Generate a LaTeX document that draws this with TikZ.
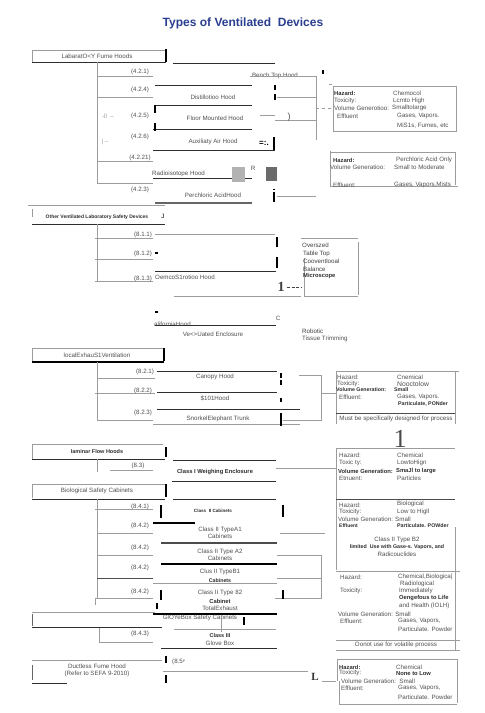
\documentclass[tikz,border=0pt]{standalone}
\usepackage{fontspec}
\setmainfont{Liberation Sans}
\newfontfamily\serifone{Liberation Serif}
\usepackage{tikz}
\usetikzlibrary{positioning}

\definecolor{txtgray}{HTML}{505050}
\definecolor{lngray}{HTML}{9C9C9C}
\definecolor{lndark}{HTML}{2E2E2E}
\definecolor{titleblue}{HTML}{2B3F91}

\tikzset{
  lbl/.style={inner sep=0pt, text=txtgray, font=\fontsize{6.2}{7}\selectfont},
  lbll/.style={lbl, anchor=west},
  bl/.style={lbl, text=lndark, font=\fontsize{5.8}{7}\selectfont\bfseries},
  bll/.style={bl, anchor=west},
  thin/.style={draw=lngray, line width=0.5pt},
  dark/.style={draw=lndark, line width=1pt},
  stub/.style={draw=black, line width=1.8pt},
}

\begin{document}
\begin{tikzpicture}[x=1pt, y=-1pt]
				\fill[white] (0,0) rectangle (485,713);
				\useasboundingbox (0,0) rectangle (485,713);

				\node[inner sep=0pt, text=titleblue, font=\fontsize{12}{14}\selectfont\bfseries] (title) at (243,23) {Types of Ventilated\ \ Devices};

				% laboratory fume hoods
				\node[lbl] (lfh) at (97,56) {LabaratO<Y Fume Hoods};
				\draw[thin] (32,50) -- (165,50);
				\draw[thin] (32,50) -- (32,62);
				\draw[dark] (32,62) -- (166,62);
				\draw[stub] (166,49) -- (166,62);
				\draw[dark] (173,63) -- (275,63);
				\draw[thin] (97,62) -- (97,183) -- (153,183);
				\draw[thin] (97,76) -- (153,76);
				\draw[thin] (97,97) -- (153,97);
				\draw[thin] (97,161) -- (153,161);
				\node[lbl] (s421) at (140,72) {(4.2.1)};
				\node[lbl] (s424) at (140,90) {(4.2.4)};
				\node[lbl] (s425) at (140,116) {(4.2.5)};
				\node[lbl] (s426) at (140,137) {(4.2.6)};
				\node[lbl] (s4221) at (140,158) {(4.2.21)};
				\node[lbl] (s423) at (140,190) {(4.2.3)};
				\node[lbl, text=lngray] (junk1) at (108,116) {-ll\ \ --};
				\node[lbl, text=lngray] (junk2) at (105,142) {|\ --};

				\node[lbl] (bench) at (275,76) {Bench Top Hood};
				\coordinate (bus1) at (316,76);
				\draw[thin] (250,76) -- (bus1) -- (316,140);
				\draw[stub] (323,70) -- (323,74);
				\draw[thin] (329,84) -- (332,84);
				\draw[dark] (155,85) -- (252,85);
				\node[lbl] (distil) at (213,97) {Distillotioo Hood};
				\draw[dark] (155,105) -- (252,105);
				\draw[stub] (155,105) -- (155,113);
				\draw[stub] (275,85) -- (275,90);
				\draw[stub] (275,94) -- (275,100);
				\draw[thin] (277,97) -- (316,97);
				\node[lbl] (floor) at (215,118) {Floor Mounted Hood};
				\draw[thin] (260,115) -- (275,115);
				\draw[thin] (275,120) -- (316,120);
				\node[lbl, font=\fontsize{9}{9}\selectfont] (paren) at (289,117) {)};
				\draw[dark] (153,129) -- (252,129);
				\draw[stub] (155,123) -- (155,131);
				\node[lbl] (aux) at (213,142) {Auxiliaty Air Hood};
				\draw[dark] (153,150) -- (275,150);
				\node[bl, text=black, font=\fontsize{8}{8}\selectfont\bfseries] (auxmark) at (264,143) {=:.};
				\draw[stub] (274,137) -- (274,150);
				\node[lbll] (radio) at (152,174) {Radioisotope Hood};
				\draw[dark] (153,178) -- (252,178);
				\fill[black!30] (232,167) rectangle (245,182);
				\fill[black!58] (266,167) rectangle (277,181);
				\node[lbl] (rmark) at (253,168) {R};
				\node[lbl] (perch) at (213,195) {Perchloric AcidHood};
				\draw[draw=black!60, line width=1.2pt] (155,203) -- (252,203);
				\draw[stub] (274,192) -- (274,202);
				\draw[stub] (274,189) -- (274,190);
				\draw[thin] (277,196) -- (316,196);
				\draw[thin] (28,205) -- (165,205);

				% hazard boxes for fume hoods
				\draw[thin] (333,86) rectangle (456,131);
				\coordinate (hz1) at (333,108);
				\draw[thin, dashed] (316,108) -- (hz1);
				\node[bll] (h1a) at (334,93) {Hazard:};
				\node[lbll] (h1b) at (393,93) {Chemocol};
				\node[lbll] (h1c) at (334,101) {Toxicity:};
				\node[lbll] (h1d) at (393,101) {Lcmto High};
				\node[lbll] (h1e) at (334,108) {Volume Generotioo:};
				\node[lbll] (h1f) at (392,108) {Smalltolarge};
				\node[lbll] (h1g) at (337,116) {Effluent};
				\node[lbll] (h1h) at (397,116) {Gases, Vapors.};
				\node[lbll] (h1i) at (397,126) {MiS1s, Fumes, etc};

				\draw[thin] (330,152) -- (455,152);
				\draw[thin] (330,151) -- (330,186);
				\draw[thin] (455,152) -- (455,185);
				\draw[thin] (330,186) -- (458,186);
				\node[bll] (h2a) at (333,160) {Hazard:};
				\node[lbll] (h2b) at (396,160) {Perchloric Acid Only};
				\node[lbll] (h2c) at (330,167) {Volume Generatioo:};
				\node[lbll] (h2d) at (394,167) {Small to Moderate};
				\node[lbll] (h2e) at (333,185) {Effluent:};
				\node[lbll] (h2f) at (394,185) {Gases, Vapors,Mists};

				% other ventilated devices
				\draw[thin] (32,209) -- (32,217);
				\node[bl, font=\fontsize{5}{6}\selectfont\bfseries] (ovlsd) at (97,217) {Other Ventilated Laboratory Safety Devices};
				\node[lbl, text=black] (jmark) at (163,216) {J};
				\draw[dark] (32,224) -- (165,224);
				\draw[thin] (97,224) -- (97,282);
				\draw[thin] (95,238) -- (153,238);
				\draw[thin] (95,259) -- (153,259);
				\draw[thin] (95,281) -- (153,281);
				\node[lbl] (s811) at (143,235) {(8.1.1)};
				\node[lbl] (s812) at (143,254) {(8.1.2)};
				\node[lbl] (s813) at (143,279) {(8.1.3)};
				\draw[thin] (155,234) -- (275,234);
				\draw[stub] (277,237) -- (277,247);
				\draw[stub] (277,257) -- (277,268);
				\draw[stub] (155,253) -- (158,253);
				\draw[dark] (155,271) -- (276,271);
				\node[lbll] (demo) at (155,277) {OemcoS1rotioo Hood};
				\node[inner sep=0pt, text=black!75, font=\serifone\fontsize{14}{14}\selectfont\bfseries] (onemark) at (281,287) {1};
				\coordinate (bal) at (301,287);
				\draw[draw=black!75, line width=0.9pt, dash pattern=on 3pt off 1.5pt] (287,287) -- (bal);
				\draw[thin] (174,296) -- (301,296);
				\draw[thin] (301,238) -- (358,238);
				\draw[thin] (358,242) -- (358,295);
				\draw[thin] (304,258) -- (304,296) -- (358,296);
				\node[lbll, text=black!75] (bal1) at (302,245) {Overszed};
				\node[lbll, text=black!75] (bal2) at (303,254) {Table Top};
				\node[lbll, text=black!75] (bal3) at (303,261) {Cooventlooal};
				\node[lbll, text=black!75] (bal4) at (303,269) {Balance};
				\node[bll] (bal5) at (303,276) {Microscope};
				\draw[stub] (155,312) -- (158,312);
				\node[lbl] (cmark) at (278,318) {C};
				\node[lbll] (calif) at (154,324) {aliforniaHood};
				\draw[dark] (155,325) -- (276,325);
				\node[lbl] (vent) at (213,334) {Ve<>Uated Enclosure};
				\node[lbll, text=black!75] (robo) at (302,331) {Robotic};
				\node[lbll] (tissue) at (302,339) {Tissue Trimming};

				% local exhaust ventilation
				\node[lbl] (lev) at (97,355) {localExhauS1Ventilation};
				\draw[thin] (32,348) -- (163,348);
				\draw[thin] (32,348) -- (32,362);
				\draw[stub] (164,348) -- (164,361);
				\draw[draw=black, line width=1.3pt] (32,362) -- (164,362);
				\draw[thin] (97,362) -- (97,420) -- (153,420);
				\draw[thin] (97,378) -- (155,378);
				\draw[thin] (95,393) -- (155,393);
				\node[lbl] (s821) at (145,372) {(8.2.1)};
				\node[lbl] (s822) at (143,391) {(8.2.2)};
				\node[lbl] (s823) at (143,413) {(8.2.3)};
				\draw[dark] (157,371) -- (277,371);
				\node[lbl] (canopy) at (215,377) {Canopy Hood};
				\draw[dark] (157,392) -- (277,392);
				\node[lbl] (slot) at (215,398) {\$101Hood};
				\draw[dark] (157,409) -- (300,409);
				\node[lbl] (snork) at (218,419) {SnorkelElephant Trunk};
				\draw[thin] (153,424) -- (300,424);
				\draw[stub] (281,373) -- (281,378);
				\draw[stub] (281,380) -- (281,385);
				\draw[stub] (281,398) -- (281,402);
				\draw[stub] (281,413) -- (281,426);
				\draw[thin] (299,375) -- (321,375) -- (321,420) -- (283,420);
				\coordinate (hz4) at (336,393);
				\draw[thin] (321,393) -- (hz4);
				\draw[thin] (336,371) -- (459,371);
				\draw[thin] (336,371) -- (336,424);
				\draw[thin] (455,371) -- (455,424);
				\draw[draw=black!70, line width=0.9pt] (336,413) -- (455,413);
				\node[lbll] (h4a) at (337,377) {Hazard:};
				\node[lbll] (h4b) at (397,377) {Cnemical};
				\node[lbll] (h4c) at (337,384) {Toxicity:};
				\node[lbll, font=\fontsize{6.8}{7}\selectfont] (h4d) at (397,384) {Nooctolow};
				\node[bll, font=\fontsize{5.3}{6}\selectfont\bfseries] (h4e) at (336,390) {Volume Generation:};
				\node[bll, font=\fontsize{5.3}{6}\selectfont\bfseries] (h4f) at (394,390) {Small};
				\node[lbll] (h4g) at (339,397) {Effluent:};
				\node[lbll] (h4h) at (397,397) {Gases, Vapors.};
				\node[bll, font=\fontsize{5.3}{6}\selectfont\bfseries] (h4i) at (398,404) {Particulate, PONder};
				\node[lbl] (h4j) at (396,419) {Must be specifically designed for process};
				\node[inner sep=0pt, text=black!70, font=\serifone\fontsize{26}{26}\selectfont] (bigone) at (400,439) {1};

				% laminar flow hoods
				\node[bl, font=\fontsize{5.5}{6}\selectfont\bfseries] (lam) at (97,452) {Iaminar Flow Hoods};
				\draw[thin] (32,444) -- (163,444);
				\draw[thin] (32,444) -- (32,459);
				\draw[stub] (166,447) -- (166,457);
				\draw[dark] (32,459) -- (165,459);
				\draw[thin] (97,459) -- (97,472);
				\draw[thin] (110,470) -- (153,470);
				\node[lbl] (s83) at (138,466) {(8.3)};
				\draw[dark] (173,460) -- (276,460);
				\node[bl] (weigh) at (215,472) {Class I Weighing Enclosure};
				\draw[dark] (172,481) -- (276,481);
				\coordinate (hz5) at (336,468);
				\draw[thin] (276,468) -- (hz5);

				% biological safety cabinets
				\node[lbl] (bsc) at (97,491) {Biological Safety Cabinets};
				\draw[thin] (32,484) -- (165,484);
				\draw[thin] (32,484) -- (32,498);
				\draw[stub] (166,484) -- (166,497);
				\draw[dark] (32,499) -- (165,499);
				\draw[dark] (173,499) -- (276,499);
				\draw[thin] (97,499) -- (97,598);
				\draw[thin] (95,598) -- (95,605);
				\draw[thin] (95,509) -- (153,509);
				\draw[thin] (97,533) -- (153,533);
				\draw[thin] (97,555) -- (153,555);
				\draw[draw=black!70, line width=0.7pt] (97,578) -- (153,578);
				\draw[thin] (95,598) -- (153,598);
				\node[lbl] (s841) at (140,507) {(8.4.1)};
				\node[lbl] (s842a) at (140,526) {(8.4.2)};
				\node[lbl] (s842b) at (140,548) {(8.4.2)};
				\node[lbl] (s842c) at (140,568) {(8.4.2)};
				\node[lbl] (s842d) at (140,592) {(8.4.2)};
				\draw[stub] (161,505) -- (161,518);
				\node[bl, font=\fontsize{4.6}{5}\selectfont\bfseries] (c2cab) at (213,511) {Class\ \ II Cabinets};
				\draw[stub] (283,505) -- (283,517);
				\draw[draw=black, line width=1.3pt] (153,523) -- (195,523);
				\node[lbl, align=center] (a1) at (220,533) {Class II TypeA1\\Cabinets};
				\draw[thin] (280,533) -- (325,533);
				\draw[draw=black!70, line width=1.2pt] (161,543) -- (277,543);
				\node[lbl, align=center] (a2) at (220,555) {Class II Type A2\\Cabinets};
				\draw[thin] (277,555) -- (321,555) -- (321,598) -- (275,598);
				\draw[draw=black, line width=1.5pt] (161,564) -- (277,564);
				\node[lbl] (b1) at (220,572) {Clus II TypeB1};
				\node[bl, font=\fontsize{5.3}{6}\selectfont\bfseries] (b1b) at (220,581) {Cabinets};
				\draw[thin] (277,578) -- (322,578);
				\draw[thin] (153,583) -- (277,583);
				\node[lbl] (b2) at (220,593) {Class II Type 82};
				\node[bl] (b2b) at (220,601) {Cabinet};
				\node[lbl] (b2c) at (220,608) {TotalExhaust};
				\draw[stub] (161,590) -- (161,600);
				\draw[stub] (283,590) -- (283,599);

				% biological and b2 hazard boxes
				\draw[thin] (336,448) -- (455,448);
				\draw[thin] (336,448) -- (336,570);
				\draw[draw=black!70, line width=0.9pt] (336,499) -- (455,499);
				\draw[thin] (455,527) -- (455,650);
				\draw[thin] (336,571) -- (460,571);
				\node[lbll] (h5a) at (339,455) {Hazard:};
				\node[lbll] (h5b) at (397,455) {Chemical};
				\node[lbll] (h5c) at (339,463) {Toxic ty:};
				\node[lbll] (h5d) at (397,463) {LowtoHign};
				\node[bll] (h5e) at (338,471) {Volume Generation:};
				\node[bll] (h5f) at (396,471) {SmaJl to large};
				\node[lbll] (h5g) at (339,478) {Etnuent:};
				\node[lbll] (h5h) at (397,478) {Particles};
				\node[lbll] (h6a) at (339,505) {Hazard:};
				\node[lbll] (h6b) at (397,504) {Biological};
				\node[lbll] (h6c) at (339,512) {Toxicity:};
				\node[lbll] (h6d) at (397,512) {Low to Higll};
				\node[lbll] (h6e) at (338,519) {Volume Generation:};
				\node[lbll] (h6f) at (395,519) {Small};
				\node[bll, font=\fontsize{5}{6}\selectfont\bfseries] (h6g) at (339,526) {Effluent};
				\node[bll, font=\fontsize{5.3}{6}\selectfont\bfseries] (h6h) at (397,526) {Particulate. POWder};
				\node[lbl] (h6i) at (397,540) {Class II Type B2};
				\node[bl, font=\fontsize{5.3}{6}\selectfont\bfseries] (h6j) at (397,547) {limited\ \ Use with Gase-s. Vapors, and};
				\node[lbl] (h6k) at (397,554) {Radicouclides};
				\node[lbll] (h7a) at (340,577) {Hazard:};
				\node[lbll] (h7b) at (398,577) {Chemical,Biologica|};
				\node[lbll] (h7c) at (400,584) {Radiological};
				\node[lbll] (h7d) at (340,591) {Toxicity:};
				\node[lbll] (h7e) at (399,591) {Immediately};
				\node[bll] (h7f) at (399,598) {Oengefous to Life};
				\node[lbll] (h7g) at (399,606) {and Health (IOLH)};
				\node[lbll] (h7h) at (338,614) {Volume Generation: Small};
				\node[lbll] (h7i) at (340,621) {Effluent:};
				\node[lbll] (h7j) at (398,621) {Gases, Vapors,};
				\node[lbll] (h7k) at (398,629) {Particulate. Powder};
				\draw[thin] (336,640) -- (460,640);
				\node[lbl] (h7l) at (396,645) {Oonot use for volatile process};
				\draw[thin] (336,650) -- (460,650);

				% glove box
				\draw[stub] (157,603) -- (157,609);
				\draw[thin] (32,612) -- (155,612);
				\draw[draw=black, line width=1.3pt] (153,614) -- (277,614);
				\node[lbl] (glove) at (200,618) {GlOYeBox Safety Cabinets};
				\draw[draw=black!60, line width=0.6pt] (32,614) -- (32,626);
				\draw[dark] (32,627) -- (162,627);
				\draw[stub] (244,617) -- (244,625);
				\draw[thin] (221,618) -- (221,632);
				\draw[thin] (174,629) -- (276,629);
				\draw[thin] (99,628) -- (99,642) -- (153,642);
				\node[lbl] (s843) at (140,634) {(8.4.3)};
				\node[bl, font=\fontsize{5.5}{6}\selectfont\bfseries] (c3) at (220,636) {Class III};
				\node[lbl] (c3b) at (220,643) {Glove Box};
				\draw[dark] (161,648) -- (277,648);

				% ductless
				\draw[thin] (32,660) -- (162,660);
				\node[lbl, align=center] (duct) at (97,670) {Ductless Fume Hood\\(Refer to SEFA 9-2010)};
				\draw[draw=black!60, line width=0.6pt] (32,665) -- (32,680);
				\draw[dark] (32,683) -- (67,683);
				\draw[stub] (166,656) -- (166,663);
				\draw[stub] (166,675) -- (166,683);
				\node[lbll] (s85) at (172,662) {(8.5\raisebox{1pt}{\fontsize{3.5}{4}\selectfont P}};
				\draw[thin] (163,671) -- (308,671);
				\node[inner sep=0pt, text=black!80, font=\serifone\fontsize{11}{11}\selectfont\bfseries] (lmark) at (315,677) {L};
				\coordinate (hz8) at (336,681);
				\draw[thin] (322,681) -- (hz8);
				\draw[thin] (337,659) -- (457,659) -- (457,703);
				\draw[thin] (337,659) -- (337,681);
				\draw[thin] (339,681) -- (339,704) -- (457,704);
				\node[bll] (h8a) at (339,667) {Hazard:};
				\node[lbll] (h8b) at (396,667) {Chemical};
				\node[lbll] (h8c) at (339,673) {Toxicity:};
				\node[bll] (h8d) at (396,674) {None\ to Low};
				\node[lbll] (h8e) at (341,681) {Volume Generation:\ \ Small};
				\node[lbll] (h8f) at (341,688) {Effluent:};
				\node[lbll] (h8g) at (398,688) {Gases, Vapors,};
				\node[lbll] (h8h) at (398,697) {Particulate. Powder};
		\end{tikzpicture}
\end{document}
